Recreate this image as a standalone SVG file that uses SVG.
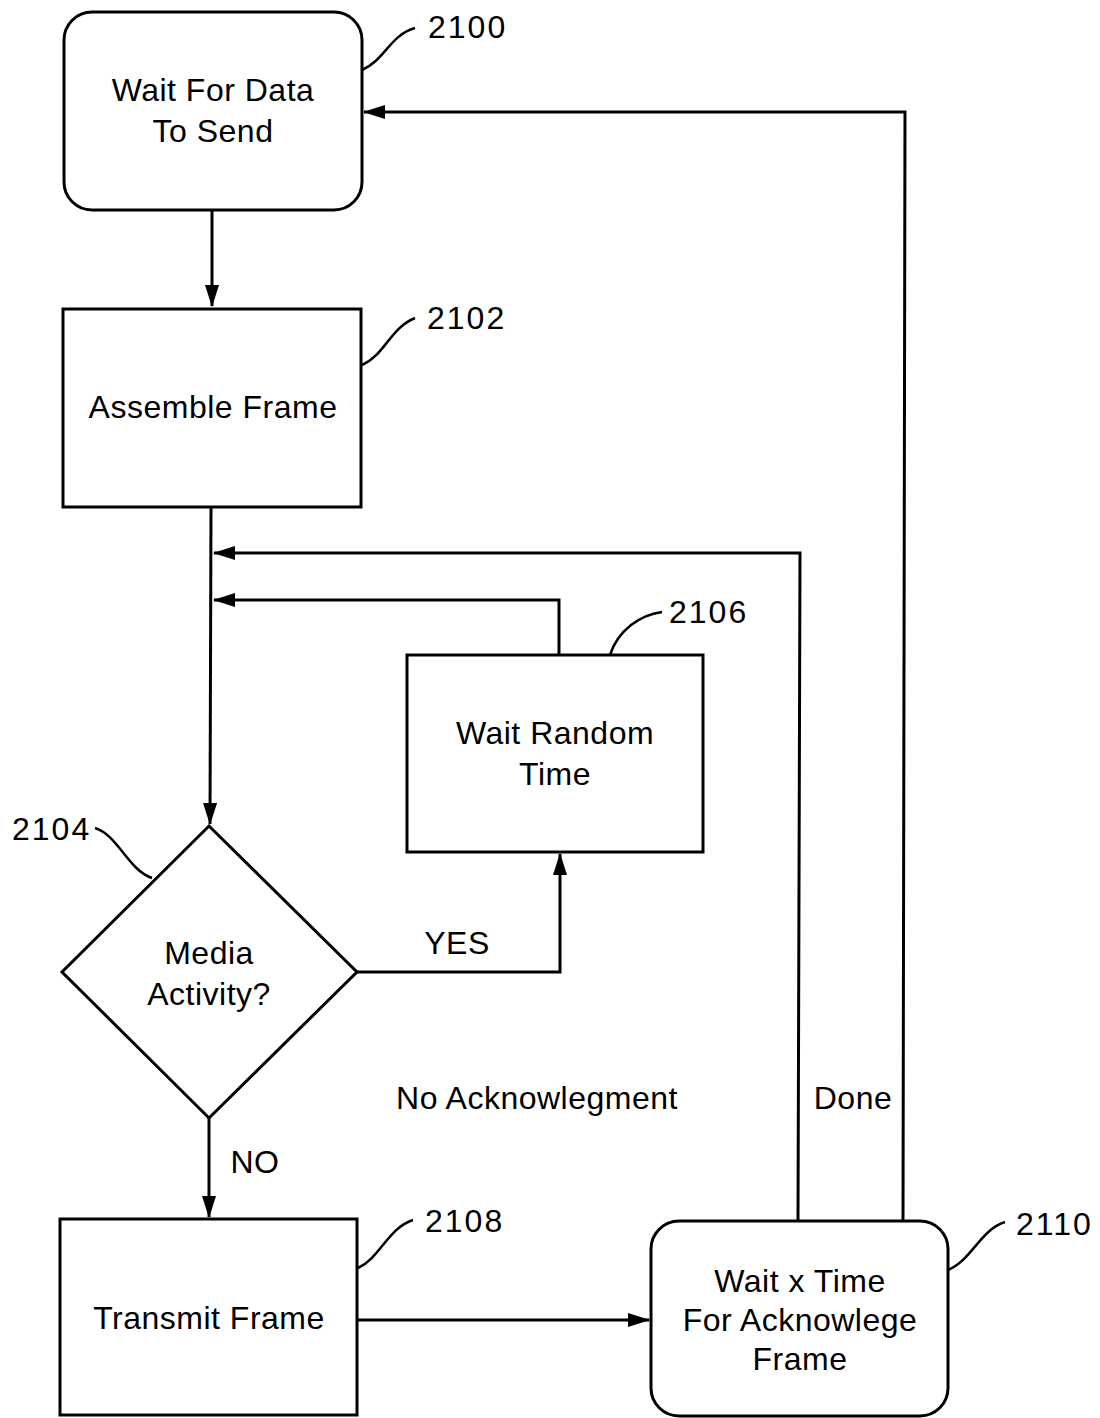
<svg xmlns="http://www.w3.org/2000/svg" width="1100" height="1418" viewBox="0 0 1100 1418">
<defs>
<marker id="ah" markerWidth="22" markerHeight="14" refX="21" refY="7" orient="auto" markerUnits="userSpaceOnUse">
<path d="M0,0 L22,7 L0,14 Z" fill="#000"/>
</marker>
<style>
.box{fill:#fff;stroke:#000;stroke-width:3}
.ln{fill:none;stroke:#000;stroke-width:3}
.ld{fill:none;stroke:#000;stroke-width:2.5}
.t{font-family:"Liberation Sans",Arial,sans-serif;font-size:32px;letter-spacing:0.5px;fill:#000;text-anchor:middle}
.n{font-family:"Liberation Sans",Arial,sans-serif;font-size:32px;letter-spacing:2px;fill:#000}
</style>
</defs>
<rect width="1100" height="1418" fill="#fff"/>
<g id="connectors">
<path class="ln" d="M212,210 L212,306" marker-end="url(#ah)"/>
<path class="ln" d="M211,507 L210,824" marker-end="url(#ah)"/>
<path class="ln" d="M798,1221 L800,553 L214,553" marker-end="url(#ah)"/>
<path class="ln" d="M559,655 L559,600 L214,600" marker-end="url(#ah)"/>
<path class="ln" d="M357,972 L560,972 L560,854" marker-end="url(#ah)"/>
<path class="ln" d="M209,1118 L209,1217" marker-end="url(#ah)"/>
<path class="ln" d="M357,1320 L649,1320" marker-end="url(#ah)"/>
<path class="ln" d="M903,1221 L905,112 L364,112" marker-end="url(#ah)"/>
<text class="t" x="457" y="954">YES</text>
<text class="t" x="255" y="1173">NO</text>
<text class="t" x="537" y="1109">No Acknowlegment</text>
<text class="t" x="853" y="1109">Done</text>
</g>
<g id="n2100">
<rect class="box" x="64" y="12" width="298" height="198" rx="28"/>
<text class="t" x="213" y="101">Wait For Data</text>
<text class="t" x="213" y="142">To Send</text>
<path class="ld" d="M362,70 C385,60 390,35 415,28"/>
<text class="n" x="428" y="38">2100</text>
</g>
<g id="n2102">
<rect class="box" x="63" y="309" width="298" height="198"/>
<text class="t" x="213" y="418">Assemble Frame</text>
<path class="ld" d="M362,365 C385,355 390,328 415,318"/>
<text class="n" x="427" y="329">2102</text>
</g>
<g id="n2104">
<path class="box" d="M209,826 L357,972 L209,1118 L62,972 Z"/>
<text class="t" x="209" y="964">Media</text>
<text class="t" x="209" y="1005">Activity?</text>
<path class="ld" d="M95,828 C118,835 128,870 152,878"/>
<text class="n" x="12" y="840">2104</text>
</g>
<g id="n2106">
<rect class="box" x="407" y="655" width="296" height="197"/>
<text class="t" x="555" y="744">Wait Random</text>
<text class="t" x="555" y="785">Time</text>
<path class="ld" d="M610,655 C618,630 640,615 662,612"/>
<text class="n" x="669" y="623">2106</text>
</g>
<g id="n2108">
<rect class="box" x="60" y="1219" width="297" height="196"/>
<text class="t" x="209" y="1329">Transmit Frame</text>
<path class="ld" d="M358,1268 C380,1258 388,1228 413,1220"/>
<text class="n" x="425" y="1232">2108</text>
</g>
<g id="n2110">
<rect class="box" x="651" y="1221" width="297" height="195" rx="28"/>
<text class="t" x="800" y="1292">Wait x Time</text>
<text class="t" x="800" y="1331">For Acknowlege</text>
<text class="t" x="800" y="1370">Frame</text>
<path class="ld" d="M948,1270 C972,1260 980,1230 1005,1222"/>
<text class="n" x="1016" y="1235">2110</text>
</g>
</svg>
